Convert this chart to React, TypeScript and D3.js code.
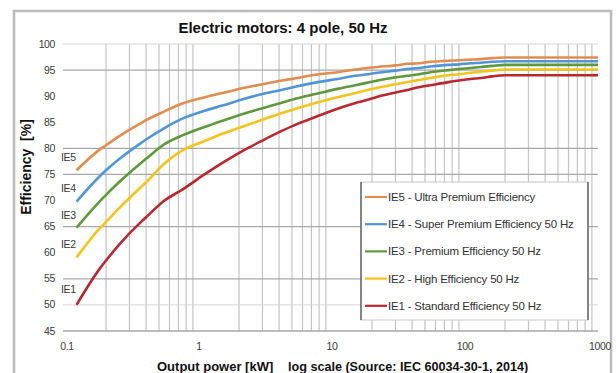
import React from "react";
import * as d3 from "d3";

// Rated output power (kW) and minimum efficiency (%) per class, 4 pole, 50 Hz
const powerKW = [0.12, 0.18, 0.2, 0.25, 0.37, 0.4, 0.55, 0.75, 1.1, 1.5, 2.2, 3, 4, 5.5, 7.5, 11, 15, 18.5, 22, 30, 37, 45, 55, 75, 90, 110, 132, 160, 200, 1000];

const ie5 = [75.8, 79.8, 80.6, 82.3, 84.9, 85.4, 87.1, 88.6, 89.8, 90.6, 91.6, 92.3, 92.9, 93.5, 94.1, 94.6, 95.1, 95.4, 95.6, 95.9, 96.2, 96.3, 96.6, 96.8, 96.9, 97.0, 97.1, 97.3, 97.4, 97.4];
const ie4 = [69.8, 74.7, 75.8, 77.9, 81.1, 81.7, 83.9, 85.7, 87.2, 88.2, 89.5, 90.4, 91.1, 91.9, 92.6, 93.3, 93.9, 94.2, 94.5, 94.9, 95.2, 95.4, 95.7, 96.0, 96.1, 96.3, 96.4, 96.6, 96.7, 96.7];
const ie3 = [64.8, 69.9, 71.1, 73.5, 77.3, 78.0, 80.8, 82.5, 84.1, 85.3, 86.7, 87.7, 88.6, 89.6, 90.4, 91.4, 92.1, 92.6, 93.0, 93.6, 93.9, 94.2, 94.6, 95.0, 95.2, 95.4, 95.6, 95.8, 96.0, 96.0];
const ie2 = [59.1, 64.7, 65.9, 68.5, 72.7, 73.5, 77.1, 79.6, 81.4, 82.8, 84.3, 85.5, 86.6, 87.7, 88.7, 89.8, 90.6, 91.2, 91.6, 92.3, 92.7, 93.1, 93.5, 94.0, 94.2, 94.5, 94.7, 94.9, 95.1, 95.1];
const ie1 = [50.0, 57.0, 58.5, 61.5, 66.0, 66.8, 70.0, 72.1, 75.0, 77.2, 79.7, 81.5, 83.1, 84.7, 86.0, 87.6, 88.7, 89.3, 89.9, 90.7, 91.2, 91.7, 92.1, 92.7, 93.0, 93.3, 93.5, 93.8, 94.0, 94.0];

const seriesNames = [
  "IE5 - Ultra Premium Efficiency",
  "IE4 - Super Premium Efficiency 50 Hz",
  "IE3 - Premium Efficiency 50 Hz",
  "IE2 - High Efficiency 50 Hz",
  "IE1 - Standard Efficiency 50 Hz",
];
const classLabels = ["IE5", "IE4", "IE3", "IE2", "IE1"];
const seriesColors = ["#e28d4f", "#4f95d8", "#5e9a3d", "#f4c31c", "#b9282e"];
const seriesValues = [ie5, ie4, ie3, ie2, ie1];

const xTicks = [0.1, 1, 10, 100, 1000];
const xTickLabels = ["0.1", "1", "10", "100", "1000"];
const yTicks = [45, 50, 55, 60, 65, 70, 75, 80, 85, 90, 95, 100];
const yGridStrong = [95, 80, 75, 65, 55, 45];
const yGridLight = [100, 50];
// Class label anchor values on the y axis (just left of each curve's start)
const classLabelY = [78.3, 72.4, 67.2, 61.5, 52.9];

const FONT = "'Liberation Sans', Arial, sans-serif";

export default function App() {
  const x = d3.scaleLog().domain([0.1, 1000]).range([66, 598]);
  const y = d3.scaleLinear().domain([45, 100]).range([331, 44]);

  const minorX: number[] = [];
  for (let dec = 0.1; dec < 1000; dec *= 10) {
    for (let m = 2; m <= 9; m++) minorX.push(+(dec * m).toPrecision(3));
  }

  const line = d3
    .line<[number, number]>()
    .x((d) => x(d[0]))
    .y((d) => y(d[1]))
    .curve(d3.curveMonotoneX);

  const legendX = 361;
  const legendY = 182;
  const legendW = 227;
  const legendH = 138;

  return (
    <svg
      width={616}
      height={373}
      style={{ position: "absolute", left: 0, top: 0, background: "#fff" }}
      fontFamily={FONT}
    >
      <rect x={0} y={0} width={616} height={373} fill="#fff" />
      {/* outer frame */}
      <rect x={14} y={11} width={597} height={400} fill="none" stroke="#bcbcbc" strokeWidth={2.5} />

      {/* title */}
      <text x={283} y={33} textAnchor="middle" fontSize={15} fontWeight="bold" fill="#111">
        Electric motors: 4 pole, 50 Hz
      </text>

      {/* vertical minor gridlines */}
      {minorX.map((v) => (
        <line key={"vx" + v} x1={x(v)} x2={x(v)} y1={44} y2={331} stroke="#c4c4c4" strokeWidth={1.2} />
      ))}
      {/* horizontal gridlines */}
      {yGridLight.map((v) => (
        <line key={"hl" + v} x1={63} x2={598} y1={y(v)} y2={y(v)} stroke="#d6d6d6" strokeWidth={1} />
      ))}
      {yGridStrong.map((v) => (
        <line key={"hs" + v} x1={63} x2={598} y1={y(v)} y2={y(v)} stroke="#a8a8a8" strokeWidth={1.3} />
      ))}

      {/* y tick labels */}
      {yTicks.map((v) => (
        <text key={"yt" + v} x={55} y={y(v) + 3.5} textAnchor="end" fontSize={10.5} fill="#3a3a3a" letterSpacing={-0.4}>
          {v}
        </text>
      ))}
      {/* x tick labels */}
      {xTicks.map((v, i) => (
        <text key={"xt" + v} x={x(v) + (i === 0 ? 1 : i === 4 ? 2 : 0)} y={350} textAnchor="middle" fontSize={10.5} fill="#3a3a3a" letterSpacing={-0.4}>
          {xTickLabels[i]}
        </text>
      ))}

      {/* axis titles */}
      <text
        transform="translate(31,167) rotate(-90)"
        textAnchor="middle"
        fontSize={14}
        fontWeight="bold"
        fill="#111"
        xmlSpace="preserve"
      >
        {"Efficiency  [%]"}
      </text>
      <text x={157} y={371} fontSize={13} fontWeight="bold" fill="#111">
        Output power [kW]
      </text>
      <text x={288} y={371} fontSize={12.6} fontWeight="bold" fill="#111">
        log scale (Source: IEC 60034-30-1, 2014)
      </text>

      {/* efficiency curves */}
      {seriesValues.map((vals, i) => (
        <path
          key={"s" + i}
          d={line(powerKW.map((p, j) => [p, vals[j]] as [number, number])) || ""}
          fill="none"
          stroke={seriesColors[i]}
          strokeWidth={2.6}
          strokeLinejoin="round"
        />
      ))}

      {/* class labels beside the curve starts */}
      {classLabels.map((lab, i) => (
        <text key={"cl" + i} x={61} y={y(classLabelY[i]) + 3.5} fontSize={10.5} fill="#3a3a3a" letterSpacing={-0.3}>
          {lab}
        </text>
      ))}

      {/* legend */}
      <rect x={legendX} y={legendY} width={legendW} height={legendH} fill="#fff" stroke="#c8c8c8" strokeWidth={1} />
      <line x1={legendX} x2={legendX} y1={legendY} y2={legendY + legendH} stroke="#666" strokeWidth={1.5} />
      <line x1={legendX + legendW} x2={legendX + legendW} y1={legendY} y2={legendY + legendH} stroke="#666" strokeWidth={1.5} />
      {seriesNames.map((name, i) => {
        const ry = 197 + i * 27.2;
        return (
          <g key={"lg" + i}>
            <line x1={365} x2={387} y1={ry} y2={ry} stroke={seriesColors[i]} strokeWidth={2.2} />
            <text x={388} y={ry + 4} fontSize={11.5} fill="#333" letterSpacing={-0.2}>
              {name}
            </text>
          </g>
        );
      })}
    </svg>
  );
}
